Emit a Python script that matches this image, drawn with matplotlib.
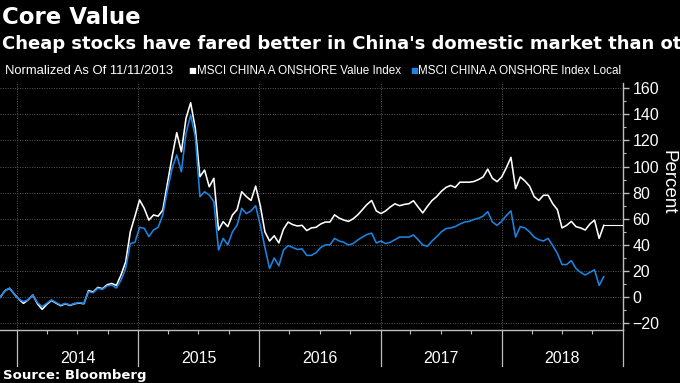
import matplotlib
matplotlib.use("Agg")
import matplotlib.pyplot as plt
import matplotlib.dates as mdates
from matplotlib import font_manager
import pandas as pd

# ---------------- data ----------------
dates = pd.date_range("2013-11-11", periods=131, freq="14D")

value_index = [
    0, 5, 6.8, 2.4, -1.6, -4.7, -2, 1.7, -5, -9.3,
    -5.5, -2.5, -4.5, -6.5, -5, -6.3, -5, -4.5, -5, 5,
    4, 7.5, 6.5, 9.5, 10.5, 9, 17, 27, 50, 62,
    74.4, 68, 59, 62.9, 62, 66.7, 87, 107.5, 125.9, 111.3,
    136.9, 148.8, 129.2, 92.2, 97.3, 84.5, 91, 51.4, 57.8, 54,
    62.9, 67, 80.7, 77, 74, 85, 70, 50, 43, 47,
    41.5, 52, 57.5, 55.5, 54.5, 55, 51, 53, 53.5, 56,
    57.5, 57.5, 63, 60.5, 59, 58, 60, 63, 67, 71,
    74, 66, 64, 66, 69, 71.5, 70, 71, 71.5, 73.8,
    69, 64.5, 69.5, 74, 77, 81, 84, 85.5, 84, 88,
    88, 88, 88.5, 90, 92, 98, 91, 88.4, 92, 99,
    107, 83, 92, 89, 85, 77, 74, 78, 78, 71.5,
    67, 53, 55, 58, 54, 53, 51.4, 56, 59, 45,
    55,
]

index_local = [
    0, 5, 6.8, 2.4, -1.6, -3.4, -2, 1.7, -4.2, -7.2,
    -4.7, -2, -4, -6, -4.7, -6, -4.7, -4.2, -4.7, 4.2,
    3.4, 6.8, 6, 8.6, 9.3, 7, 13, 22, 41, 42,
    53.5, 52.7, 46.3, 51.4, 53.5, 62.9, 82, 98.6, 108.8, 96,
    125.4, 139.4, 122.8, 76.9, 80.7, 78.2, 73.1, 36.1, 45, 40,
    50, 55, 68, 64, 66, 70, 55, 38, 22, 30,
    24, 36, 39.5, 38, 36.5, 37, 32, 32, 34, 38,
    40, 40, 45, 43, 42, 40, 41, 43.8, 46, 48,
    49, 41.5, 43, 41, 42, 44, 46, 46, 46, 47.6,
    44, 40, 39, 43, 46.3, 50, 52.5, 53, 54, 56,
    57.5, 58, 59.5, 60.4, 62, 65.5, 57.5, 55, 58, 62.5,
    66, 46, 54, 53, 50, 46, 44, 43, 45, 39.5,
    33.5, 25, 25, 28, 22, 19, 17, 19, 21, 9,
    15.7,
]

years = [2014, 2015, 2016, 2017, 2018]
y_ticks = [-20, 0, 20, 40, 60, 80, 100, 120, 140, 160]

title = "Core Value"
subtitle = "Cheap stocks have fared better in China's domestic market than other markets"
legend_note = "Normalized As Of 11/11/2013"
name_value = "MSCI CHINA A ONSHORE Value Index"
name_local = "MSCI CHINA A ONSHORE Index Local"
source = "Source: Bloomberg"

# ---------------- style ----------------
BG = "#000000"
WHITE = "#ffffff"
BLUE = "#1c84e3"
GRID = "#5a5a5a"
AXIS = "#bdbdbd"

available = {f.name for f in font_manager.fontManager.ttflist}
narrow = "Liberation Sans" if "Liberation Sans" in available else "DejaVu Sans"

W, H = 680, 383
fig = plt.figure(figsize=(W / 100, H / 100), dpi=100, facecolor=BG)
ax = fig.add_axes([0 / W, (H - 330) / H, 622.7 / W, (330 - 83) / H], facecolor=BG)

ax.plot(dates, value_index, color=WHITE, lw=1.15, zorder=3)
ax.plot(dates, index_local, color=BLUE, lw=1.15, zorder=4)

x_start = pd.Timestamp("2013-11-10")
x_end = pd.Timestamp("2019-01-01")
ax.plot([dates[-1], x_end], [value_index[-1], value_index[-1]], color=WHITE, lw=0.8, zorder=3)

ax.set_xlim(x_start, x_end)
ax.set_ylim(-25.1, 163.9)

# grid
for yv in y_ticks:
    ax.axhline(yv, color=GRID, lw=0.7, ls=(0, (1, 1.5)), zorder=1)
for yr in years + [2019]:
    ax.axvline(pd.Timestamp(f"{yr}-01-01"), color=GRID, lw=0.7, ls=(0, (1, 1.5)), zorder=1)

# spines
for s in ["top", "left"]:
    ax.spines[s].set_visible(False)
ax.spines["right"].set_color(AXIS)
ax.spines["bottom"].set_color(AXIS)
ax.spines["right"].set_linewidth(1.0)
ax.spines["bottom"].set_linewidth(1.0)

# y axis on right
ax.yaxis.tick_right()
ax.set_yticks(y_ticks)
ax.set_yticks(list(range(-20, 161, 10)), minor=True)
ax.tick_params(axis="y", which="major", colors=AXIS, length=4, width=1, pad=3,
               labelsize=11.5, labelcolor=WHITE)
ax.tick_params(axis="y", which="minor", colors=AXIS, length=2, width=0.8)
for lab in ax.get_yticklabels():
    lab.set_fontfamily(narrow)
ax.yaxis.set_label_position("right")
ax.set_ylabel("Percent", color=WHITE, fontsize=13.5, rotation=-90, family=narrow,
              va="center", ha="center")
ax.yaxis.set_label_coords(1.073, 0.60)

# x axis: quarterly minor ticks, no major labels (custom)
ax.xaxis.set_major_locator(mdates.YearLocator())
ax.xaxis.set_minor_locator(mdates.MonthLocator(bymonth=[4, 7, 10]))
ax.tick_params(axis="x", which="major", length=0, labelbottom=False)
ax.tick_params(axis="x", which="minor", length=3, width=0.8, colors=AXIS)

xt = ax.get_xaxis_transform()
for yr in years + [2019]:
    d = pd.Timestamp(f"{yr}-01-01")
    ax.plot([d, d], [0, -0.146], color=AXIS, lw=0.9, transform=xt, clip_on=False)
for yr in years:
    ax.text(pd.Timestamp(f"{yr}-07-02"), -0.115, str(yr), transform=xt, ha="center",
            va="center", color=WHITE, fontsize=11.5, family=narrow)

# titles
fig.text(2 / W, 1 - 17 / H, title, color=WHITE, fontsize=16.5, fontweight="bold",
         ha="left", va="center")
fig.text(2 / W, 1 - 44 / H, subtitle, color=WHITE, fontsize=13, fontweight="bold",
         ha="left", va="center")

# legend row
ly = 1 - 71 / H
fig.text(5 / W, ly, legend_note, color=WHITE, fontsize=9.4, family=narrow, ha="left", va="center")
fig.text(188 / W, ly, "\u25a0", color=WHITE, fontsize=6, ha="left", va="center")
fig.text(197 / W, ly, name_value, color=WHITE, fontsize=8.4, family=narrow, ha="left", va="center")
fig.text(410 / W, ly, "\u25a0", color=BLUE, fontsize=6, ha="left", va="center")
fig.text(418 / W, ly, name_local, color=WHITE, fontsize=8.4, family=narrow, ha="left", va="center")

fig.text(3 / W, 1 - 376 / H, source, color=WHITE, fontsize=9.5, fontweight="bold",
         ha="left", va="center")

fig.savefig("out.png", dpi=100, facecolor=BG)
